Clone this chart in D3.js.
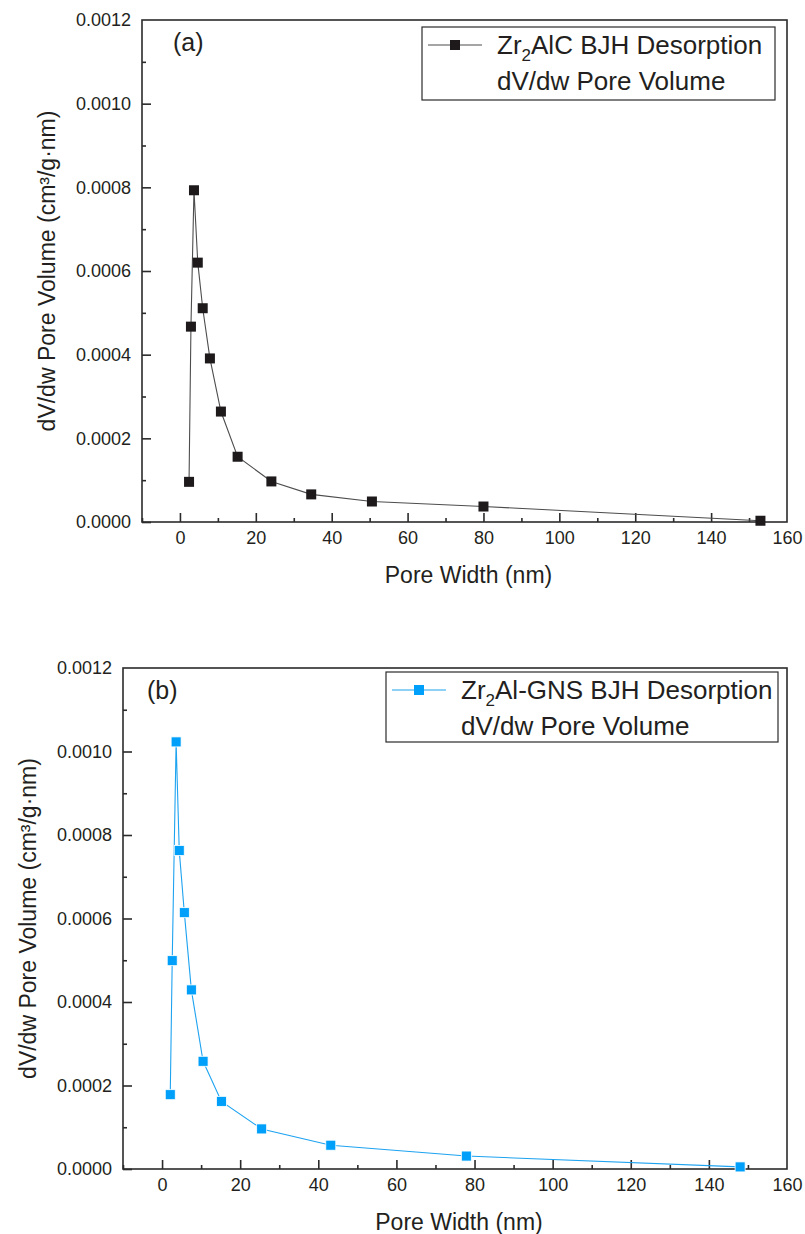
<!DOCTYPE html>
<html>
<head>
<meta charset="utf-8">
<script src="https://cdn.jsdelivr.net/npm/d3@7"></script>
<style>
  body { margin: 0; background: #ffffff; }
  svg { display: block; }
  text { font-family: Arial, "Liberation Sans", sans-serif; fill: #231f20; }
</style>
</head>
<body>
<svg id="chart" width="805" height="1234"></svg>
<script>
//Panel (a) data
var widthA = [2.4, 2.9, 3.7, 4.7, 6.0, 7.9, 10.8, 15.2, 24.1, 34.6, 50.6, 80.0, 153.0];
var volumeA = [0.000096, 0.000467, 0.000793, 0.000620, 0.000511, 0.000391, 0.000264, 0.000156, 0.000097, 0.000066, 0.000049, 0.000037, 0.000003];

//Panel (b) data
var widthB = [2.1, 2.6, 3.6, 4.4, 5.7, 7.5, 10.5, 15.2, 25.5, 43.2, 77.9, 148.0];
var volumeB = [0.000178, 0.000499, 0.001023, 0.000763, 0.000614, 0.000429, 0.000258, 0.000162, 0.000096, 0.000057, 0.000031, 0.000005];

//Ticks
var xTicks = [0, 20, 40, 60, 80, 100, 120, 140, 160];
var xMinor = [-10, 10, 30, 50, 70, 90, 110, 130, 150];
var yTicks = [0, 0.0002, 0.0004, 0.0006, 0.0008, 0.0010, 0.0012];
var yMinor = [0.0001, 0.0003, 0.0005, 0.0007, 0.0009, 0.0011];

var xTitle = "Pore Width (nm)";
var yTitle = "dV/dw Pore Volume (cm\u00B3/g\u00B7nm)";

var svg = d3.select("#chart");

function drawPanel(cfg) {
    var g = svg.append("g");

    //Scales
    var xScale = d3.scaleLinear().domain([-10, 160]).range([cfg.left, cfg.right]);
    var yScale = d3.scaleLinear().domain([0, 0.0012]).range([cfg.bottom, cfg.top]);

    //Frame
    g.append("rect")
     .attr("x", cfg.left)
     .attr("y", cfg.top)
     .attr("width", cfg.right - cfg.left)
     .attr("height", cfg.bottom - cfg.top)
     .style("fill", "none")
     .style("stroke", "#2b2b2b")
     .style("stroke-width", 1.6);

    //X-axis
    var xAxis = g.append("g")
                 .attr("transform", "translate(0," + cfg.bottom + ")")
                 .call(d3.axisBottom(xScale).tickValues(xTicks).tickSizeInner(-9).tickSizeOuter(0).tickPadding(9));
    g.append("g")
     .attr("transform", "translate(0," + cfg.bottom + ")")
     .call(d3.axisBottom(xScale).tickValues(xMinor).tickSizeInner(-4).tickSizeOuter(0).tickFormat(""));

    //Y-axis
    var yAxis = g.append("g")
                 .attr("transform", "translate(" + cfg.left + ",0)")
                 .call(d3.axisLeft(yScale).tickValues(yTicks).tickSizeInner(-9).tickSizeOuter(0).tickPadding(11).tickFormat(d3.format(".4f")));
    g.append("g")
     .attr("transform", "translate(" + cfg.left + ",0)")
     .call(d3.axisLeft(yScale).tickValues(yMinor).tickSizeInner(-4).tickSizeOuter(0).tickFormat(""));

    g.selectAll(".domain").remove();
    g.selectAll(".tick line").style("stroke", "#2b2b2b").style("stroke-width", 1.6);
    g.selectAll(".tick text").style("font-size", "18px").style("fill", "#231f20")
     .style("font-family", "Arial, 'Liberation Sans', sans-serif");
    //Ticks sitting on the frame edge
    xAxis.selectAll(".tick").filter(function(d){ return d === 160; }).select("line").remove();
    yAxis.selectAll(".tick").filter(function(d){ return d === 0.0012; }).select("line").remove();

    //Line
    var pts = cfg.x.map(function(d, i){ return [d, cfg.y[i]]; });
    var line = d3.line()
                 .x(function(d){ return xScale(d[0]); })
                 .y(function(d){ return yScale(d[1]); });
    g.append("path")
     .datum(pts)
     .attr("d", line)
     .style("fill", "none")
     .style("stroke", cfg.lineColor)
     .style("stroke-width", 1.1);

    //Markers
    var s = 10;
    g.append("g")
     .selectAll("rect")
     .data(pts)
     .enter()
     .append("rect")
     .attr("x", function(d){ return xScale(d[0]) - s / 2; })
     .attr("y", function(d){ return yScale(d[1]) - s / 2; })
     .attr("width", s)
     .attr("height", s)
     .style("fill", cfg.markerColor)
     .style("stroke", cfg.markerStroke)
     .style("stroke-width", 0.8);

    //Panel label
    g.append("text")
     .attr("x", cfg.labelX)
     .attr("y", cfg.top + 31)
     .style("font-size", "25px")
     .text(cfg.label);

    //Legend
    var lg = g.append("g");
    lg.append("rect")
      .attr("x", cfg.legX)
      .attr("y", cfg.legY)
      .attr("width", cfg.legW)
      .attr("height", cfg.legH)
      .style("fill", "white")
      .style("stroke", "#2b2b2b")
      .style("stroke-width", 1.2);
    var symY = cfg.legY + 18;
    lg.append("line")
      .attr("x1", cfg.legX + 6)
      .attr("x2", cfg.legX + 60)
      .attr("y1", symY)
      .attr("y2", symY)
      .style("stroke", cfg.lineColor)
      .style("stroke-width", 1.1);
    lg.append("rect")
      .attr("x", cfg.legX + 33 - s / 2)
      .attr("y", symY - s / 2)
      .attr("width", s)
      .attr("height", s)
      .style("fill", cfg.markerColor);
    var t1 = lg.append("text")
               .attr("x", cfg.legX + 75)
               .attr("y", symY + 9)
               .style("font-size", "26px");
    t1.append("tspan").text("Zr");
    t1.append("tspan").attr("dy", 7).style("font-size", "17px").text("2");
    t1.append("tspan").attr("dy", -7).text(cfg.legName);
    lg.append("text")
      .attr("x", cfg.legX + 75)
      .attr("y", symY + 45)
      .style("font-size", "26px")
      .text("dV/dw Pore Volume");

    //X-axis title
    g.append("text")
     .attr("x", (cfg.left + cfg.right) / 2 + 4)
     .attr("y", cfg.bottom + 61)
     .attr("text-anchor", "middle")
     .style("font-size", "23px")
     .text(xTitle);

    //Y-axis title
    g.append("text")
     .attr("transform", "rotate(-90)")
     .attr("x", -(cfg.top + cfg.bottom) / 2)
     .attr("y", cfg.left - 87)
     .attr("text-anchor", "middle")
     .style("font-size", "23px")
     .text(yTitle);
}

drawPanel({
    left: 142, right: 787, top: 20, bottom: 522,
    x: widthA, y: volumeA,
    lineColor: "#4d4d4d", markerColor: "#1e1a1b", markerStroke: "none",
    label: "(a)", labelX: 173,
    legX: 422, legY: 27, legW: 353, legH: 73,
    legName: "AlC BJH Desorption"
});

drawPanel({
    left: 123, right: 787, top: 668, bottom: 1169,
    x: widthB, y: volumeB,
    lineColor: "#1ea3f0", markerColor: "#00a0fa", markerStroke: "#ffffff",
    label: "(b)", labelX: 147,
    legX: 386, legY: 672, legW: 392, legH: 70,
    legName: "Al-GNS BJH Desorption"
});
</script>
</body>
</html>
